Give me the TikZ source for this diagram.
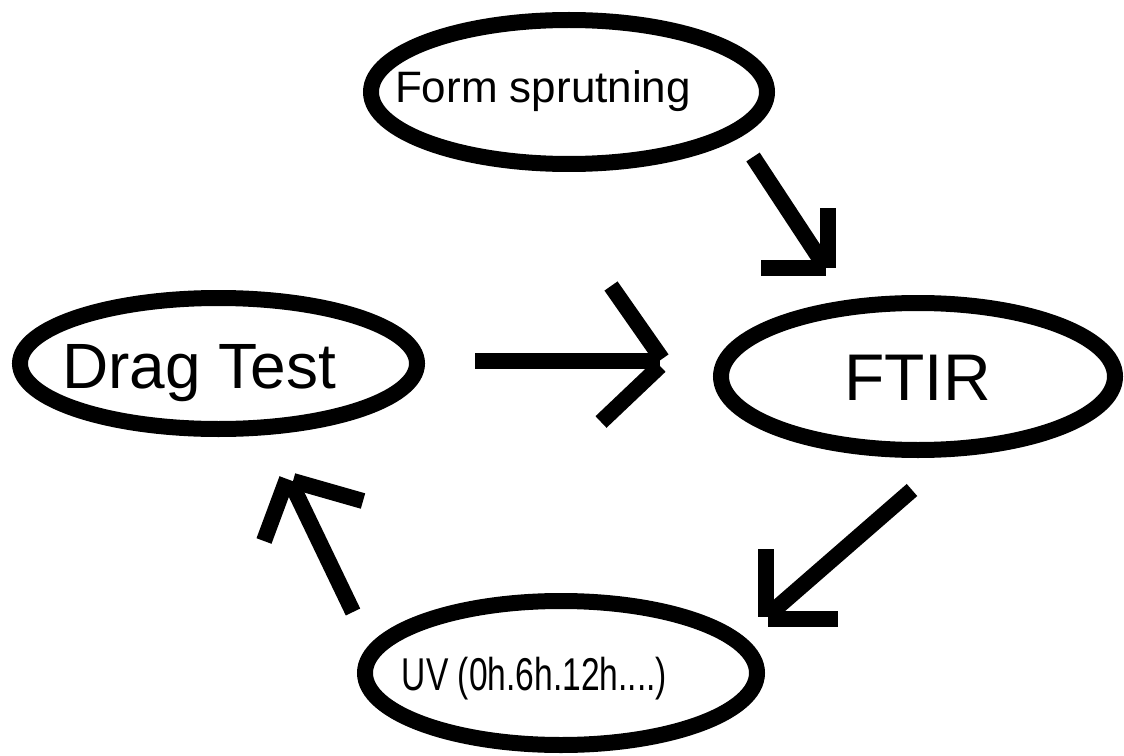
\documentclass[tikz,border=0pt]{standalone}
\usepackage{fontspec}
\setmainfont{Liberation Sans}
\usepackage{graphicx}
\usetikzlibrary{shapes.geometric}

\begin{document}
\begin{tikzpicture}[x=0.75pt, y=-0.75pt,
	bubble/.style={draw, ellipse, line width=12pt, inner sep=0pt},
	txt/.style={anchor=base, inner sep=0pt},
	thickline/.style={line width=12pt, line cap=butt}]
	\useasboundingbox (0,0) rectangle (1124,756);

	% Draw ellipses
	\node[bubble, minimum width=297pt, minimum height=108pt] (form) at (569,92) {};
	\node[bubble, minimum width=297.75pt, minimum height=98.25pt] (drag) at (218.5,363.5) {};
	\node[bubble, minimum width=295.5pt, minimum height=110.25pt] (ftir) at (918,376.5) {};
	\node[bubble, minimum width=294pt, minimum height=108pt] (uv) at (561,673) {};

	% Texts
	\node[txt, font=\fontsize{33}{36}\selectfont] (formtext) at (543,103) {Form sprutning};
	\node[txt, font=\fontsize{48}{52}\selectfont] (dragtext) at (199,388) {Drag Test};
	\node[txt, font=\fontsize{49.5}{54}\selectfont] (ftirtext) at (917.5,400) {FTIR};
	\node[txt, font=\fontsize{34.5}{38}\selectfont] (uvtext) at (534.5,690) {\scalebox{0.73}[1]{UV (0h.6h.12h....)}};

	% Arrow ends
	\coordinate (formout) at (753,157);
	\coordinate (ftirin) at (822,262);
	\coordinate (dragout) at (475,361);
	\coordinate (ftirleft) at (660,361);
	\coordinate (ftirout) at (912,490);
	\coordinate (uvin) at (773,611);
	\coordinate (uvout) at (353,612);
	\coordinate (dragin) at (292,485);

	% Form sprutning -> FTIR
	\draw[thickline] (formout) -- (ftirin);
	\draw[thickline] (827.5,208) -- (827.5,268);
	\draw[thickline] (761,267.5) -- (826,267.5);

	% Drag Test -> FTIR
	\draw[thickline] (dragout) -- (ftirleft);
	\draw[thickline] (611,286) -- (662,359);
	\draw[thickline] (601,422) -- (660,366);

	% FTIR -> UV
	\draw[thickline] (ftirout) -- (uvin);
	\draw[thickline] (766,549) -- (766,617);
	\draw[thickline] (768,618.5) -- (838,618.5);

	% UV -> Drag Test
	\draw[thickline] (uvout) -- (dragin);
	\draw[thickline] (293,481) -- (363,501);
	\draw[thickline] (287,479) -- (264,541);

\end{tikzpicture}
\end{document}
